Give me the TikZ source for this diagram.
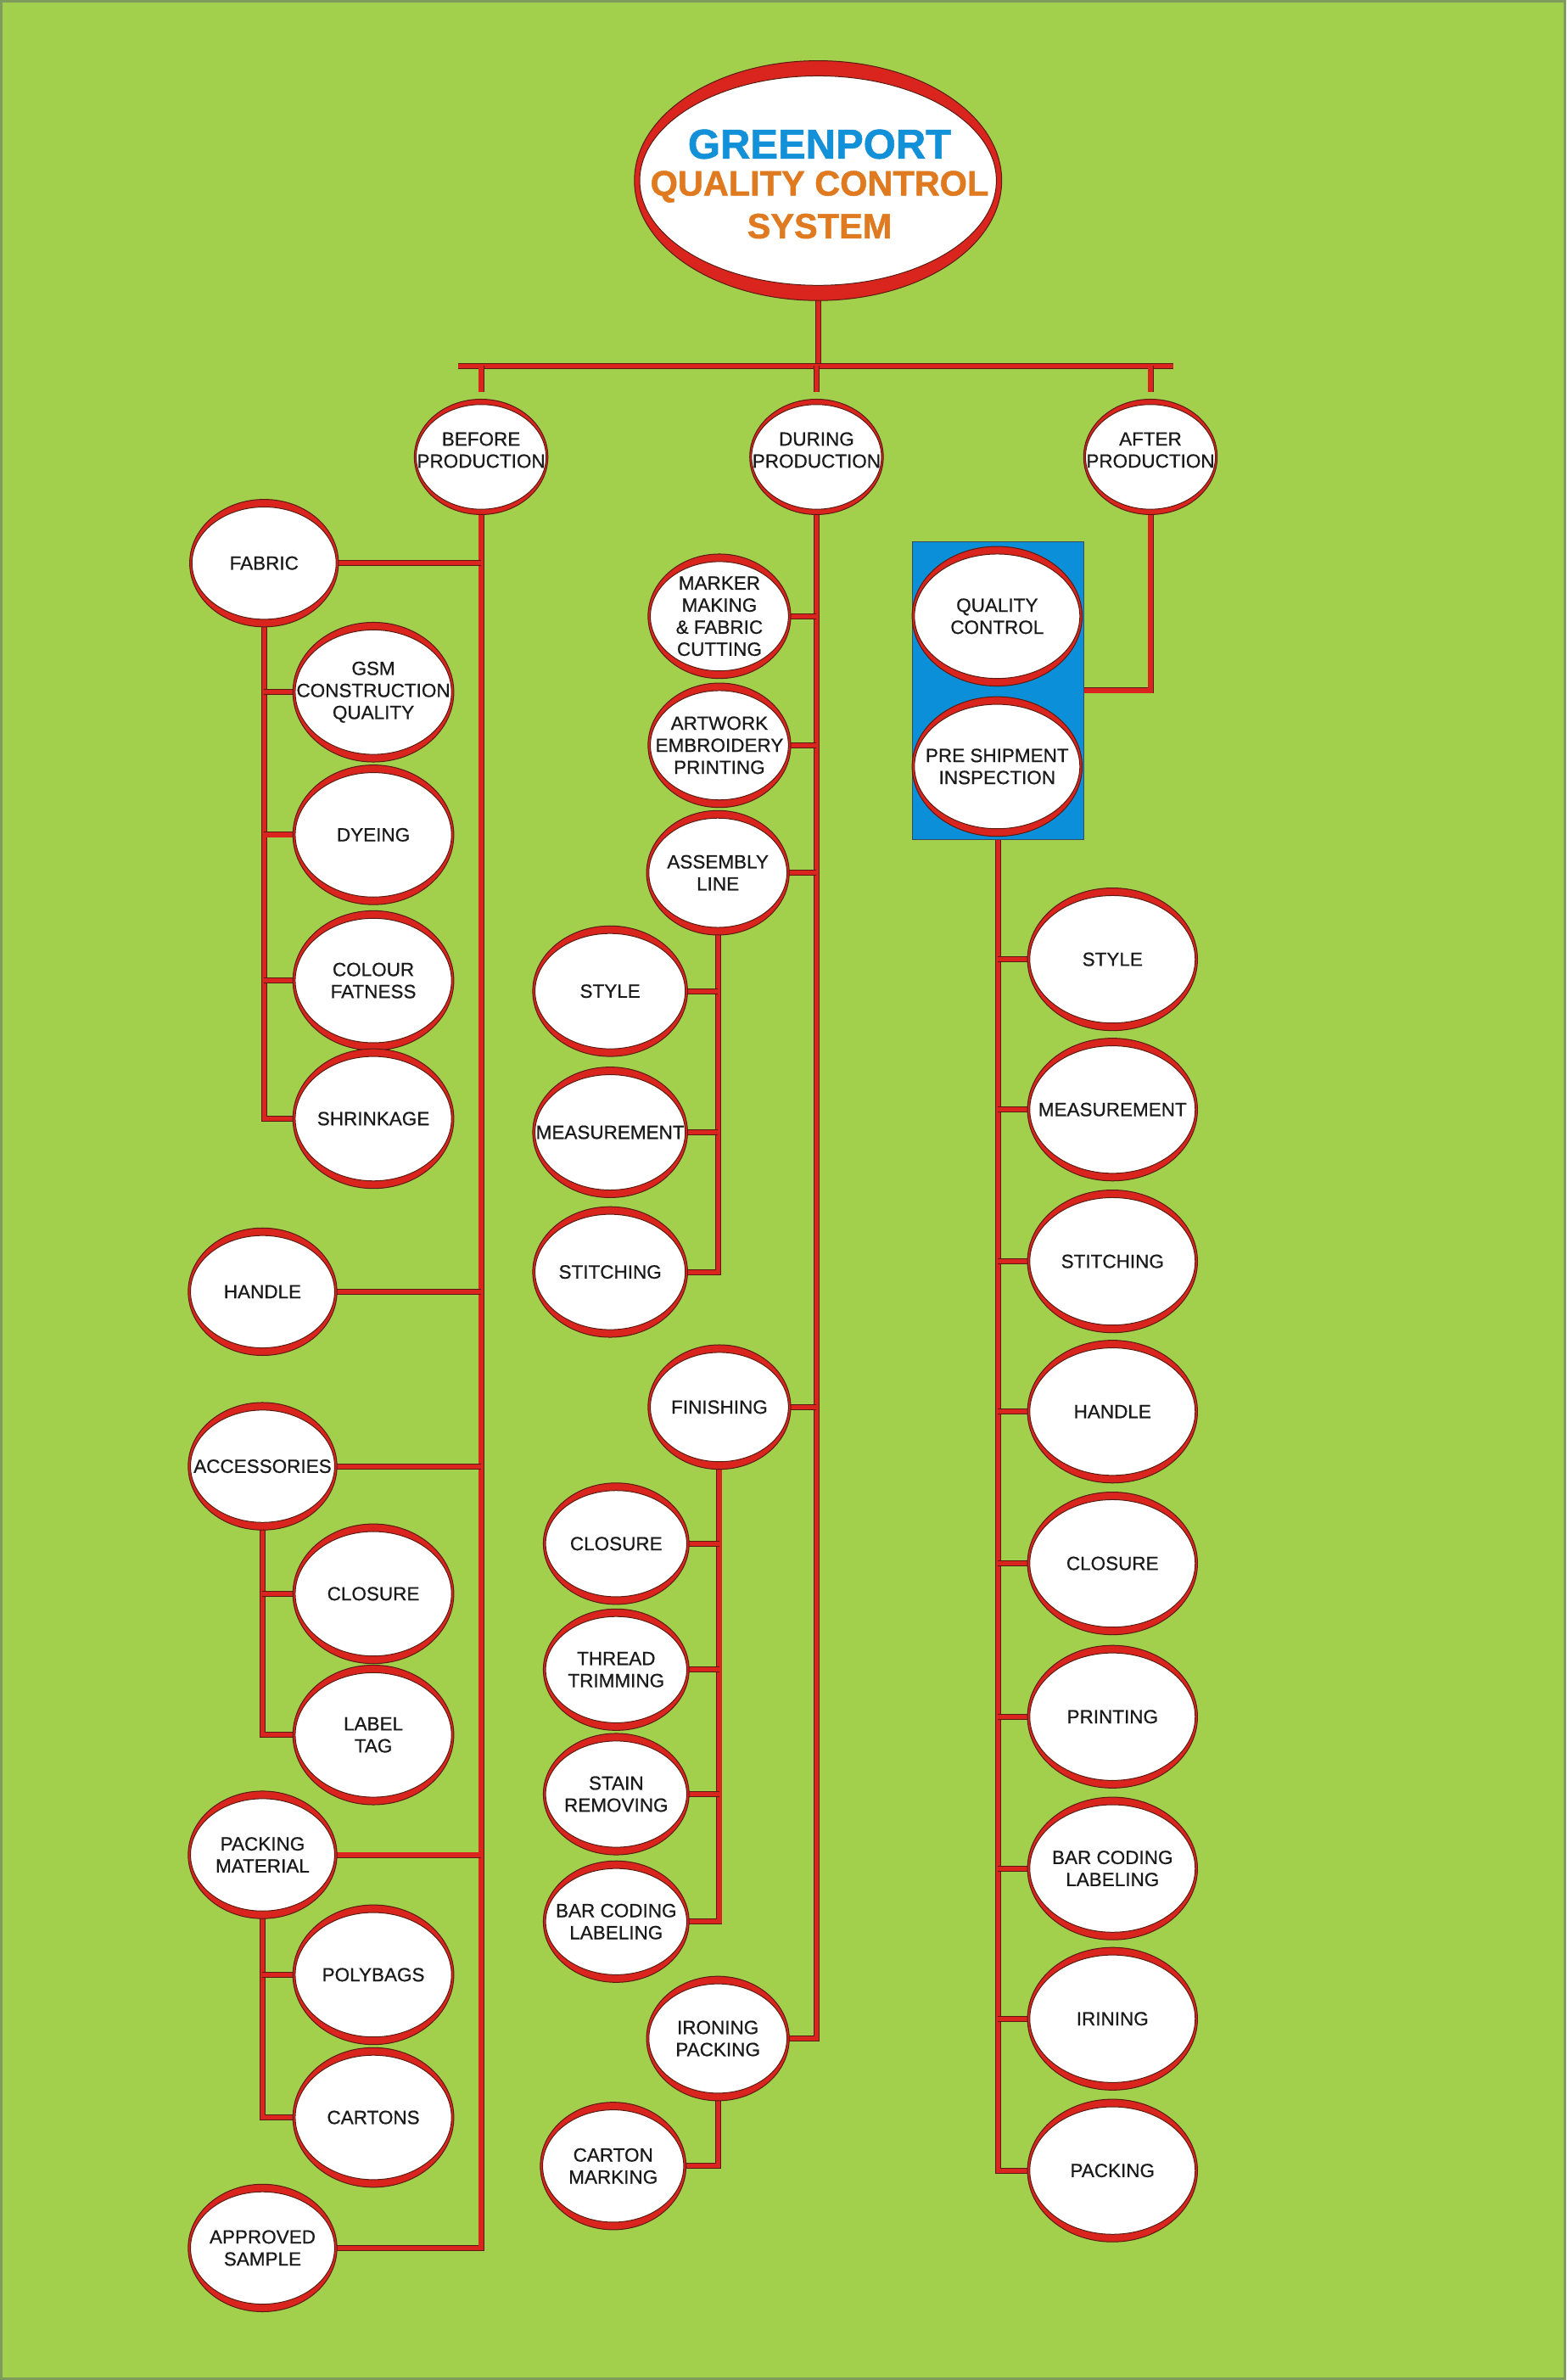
\documentclass[tikz,border=0pt]{standalone}
\usepackage{fontspec}
\setmainfont{Liberation Sans}
\newfontfamily\lblfont[FakeBold=0.7]{Liberation Sans}
\newfontfamily\ttlfont[FakeBold=1.2]{Liberation Sans Bold}
\usetikzlibrary{shapes.geometric}
\pgfdeclarelayer{bg}
\pgfsetlayers{bg,main}
\definecolor{bggreen}{HTML}{A3D04C}
\definecolor{frame}{HTML}{7E9A5C}
\definecolor{nodered}{HTML}{D9251D}
\definecolor{dkline}{HTML}{5A1A10}
\definecolor{boxblue}{HTML}{0B8FD8}
\definecolor{tblue}{HTML}{1290D8}
\definecolor{torange}{HTML}{E07A20}
\definecolor{txt}{HTML}{1A1A1A}
\tikzset{
  lbl/.style={rectangle, inner sep=0pt, align=center, text=txt,
    font=\lblfont\fontsize{22.5}{26}\selectfont},
  conn/.style={draw=dkline, line width=0.9pt, double=nodered,
    double distance=5.2pt, line join=miter},
  ttl/.style={inner sep=0pt}
}
\newcommand\ov[9]{%
  \fill[nodered, draw=dkline, line width=1pt] (#2,#3) ellipse [x radius=#4, y radius=#5];
  \fill[white, draw=dkline, line width=1pt] (#2,#3) ellipse [x radius={#4-#7}, y radius={#5-#8}];
  \node[lbl, minimum width={2*#4*1.7897pt}, minimum height={2*#5*1.7897pt}, #9] (#1) at (#2,#3) {#6};%
}
\newcommand\ovn[6]{\ov{#1}{#2}{#3}{#4}{#5}{#6}{1.5}{5}{}}
\begin{document}
\begin{tikzpicture}[x=1.7897pt, y=-1.7897pt]
\useasboundingbox (0,0) rectangle (1032,1568);
\begin{pgfonlayer}{bg}
  \fill[bggreen, draw=frame, line width=3pt] (0.8,0.8) rectangle (1031.2,1567.2);
\end{pgfonlayer}

% title
\ov{title}{539}{119}{121}{79}{}{3.5}{10}{}
\node[ttl, text=tblue, font=\ttlfont\fontsize{49}{52}\selectfont] (t1) at (540,95) {GREENPORT};
\node[ttl, text=torange, font=\ttlfont\fontsize{41.5}{46}\selectfont] (t2) at (540,123) {QUALITY CONTROL};
\node[ttl, text=torange, font=\ttlfont\fontsize{41.5}{46}\selectfont] (t3) at (540,149) {SYSTEM};

\coordinate (barL) at (302,241);
\coordinate (barR) at (773,241);

% level 1
\ov{before}{317}{301}{44}{38}{BEFORE\\PRODUCTION}{1.2}{3.5}{yshift=8pt}
\ov{during}{538}{301}{44}{38}{DURING\\PRODUCTION}{1.2}{3.5}{yshift=8pt}
\ov{after}{758}{301}{44}{38}{AFTER\\PRODUCTION}{1.2}{3.5}{yshift=8pt}

% before column
\ovn{fabric}{174}{371}{49}{42}{FABRIC}
\ovn{gsm}{246}{456}{53}{46}{GSM\\CONSTRUCTION\\QUALITY}
\ovn{dyeing}{246}{550}{53}{46}{DYEING}
\ovn{colour}{246}{646}{53}{46}{COLOUR\\FATNESS}
\ovn{shrink}{246}{737}{53}{46}{SHRINKAGE}
\ovn{handle}{173}{851}{49}{42}{HANDLE}
\ovn{acc}{173}{966}{49}{42}{ACCESSORIES}
\ovn{closureA}{246}{1050}{53}{46}{CLOSURE}
\ovn{label}{246}{1143}{53}{46}{LABEL\\TAG}
\ovn{packmat}{173}{1222}{49}{42}{PACKING\\MATERIAL}
\ovn{poly}{246}{1301}{53}{46}{POLYBAGS}
\ovn{cartons}{246}{1395}{53}{46}{CARTONS}
\ovn{approved}{173}{1481}{49}{42}{APPROVED\\SAMPLE}

% during column
\ovn{marker}{474}{406}{47}{41}{MARKER\\MAKING\\\&\ FABRIC\\CUTTING}
\ovn{artwork}{474}{491}{47}{41}{ARTWORK\\EMBROIDERY\\PRINTING}
\ovn{assembly}{473}{575}{47}{41}{ASSEMBLY\\LINE}
\ovn{styleA}{402}{653}{51}{43}{STYLE}
\ovn{measA}{402}{746}{51}{43}{MEASUREMENT}
\ovn{stitchA}{402}{838}{51}{43}{STITCHING}
\ovn{finishing}{474}{927}{47}{41}{FINISHING}
\ovn{closureB}{406}{1017}{48}{40}{CLOSURE}
\ovn{thread}{406}{1100}{48}{40}{THREAD\\TRIMMING}
\ovn{stain}{406}{1182}{48}{40}{STAIN\\REMOVING}
\ovn{barcodeA}{406}{1266}{48}{40}{BAR CODING\\LABELING}
\ovn{ironing}{473}{1343}{47}{41}{IRONING\\PACKING}
\ovn{carton}{404}{1427}{48}{42}{CARTON\\MARKING}

% after column
\node[fill=boxblue, draw=dkline!60!boxblue, line width=1pt, minimum width={113*1.7897pt}, minimum height={196*1.7897pt}, inner sep=0pt] (qcbox) at (657.5,455) {};
\ovn{qc}{657}{406}{56}{46}{QUALITY\\CONTROL}
\ovn{psi}{657}{505}{56}{46}{PRE SHIPMENT\\INSPECTION}
\ovn{styleB}{733}{632}{56}{47}{STYLE}
\ovn{measB}{733}{731}{56}{47}{MEASUREMENT}
\ovn{stitchB}{733}{831}{56}{47}{STITCHING}
\ovn{handleB}{733}{930}{56}{47}{HANDLE}
\ovn{closureC}{733}{1030}{56}{47}{CLOSURE}
\ovn{printing}{733}{1131}{56}{47}{PRINTING}
\ovn{barcodeB}{733}{1231}{56}{47}{BAR CODING\\LABELING}
\ovn{irining}{733}{1330}{56}{47}{IRINING}
\ovn{packing}{733}{1430}{56}{47}{PACKING}

\begin{pgfonlayer}{bg}
  % top
  \draw[conn] (title.south) -- (title.south |- barL);
  \draw[conn] (barL) -- (barR);
  \draw[conn] (before.north |- barL) -- (before.north);
  \draw[conn] (during.north |- barL) -- (during.north);
  \draw[conn] (after.north |- barL) -- (after.north);
  % before trunk
  \draw[conn] (before.south) -- (before.south |- approved.east) -- (approved.east);
  \foreach \n in {fabric,handle,acc,packmat}
    \draw[conn] (\n.east) -- (\n.east -| before.south);
  \draw[conn] (fabric.south) -- (fabric.south |- shrink.west) -- (shrink.west);
  \foreach \n in {gsm,dyeing,colour}
    \draw[conn] (\n.west -| fabric.south) -- (\n.west);
  \draw[conn] (acc.south) -- (acc.south |- label.west) -- (label.west);
  \draw[conn] (closureA.west -| acc.south) -- (closureA.west);
  \draw[conn] (packmat.south) -- (packmat.south |- cartons.west) -- (cartons.west);
  \draw[conn] (poly.west -| packmat.south) -- (poly.west);
  % during trunk
  \draw[conn] (during.south) -- (during.south |- ironing.east) -- (ironing.east);
  \foreach \n in {marker,artwork,assembly,finishing}
    \draw[conn] (\n.east) -- (\n.east -| during.south);
  \draw[conn] (assembly.south) -- (assembly.south |- stitchA.east) -- (stitchA.east);
  \foreach \n in {styleA,measA}
    \draw[conn] (\n.east) -- (\n.east -| assembly.south);
  \draw[conn] (finishing.south) -- (finishing.south |- barcodeA.east) -- (barcodeA.east);
  \foreach \n in {closureB,thread,stain}
    \draw[conn] (\n.east) -- (\n.east -| finishing.south);
  \draw[conn] (ironing.south) -- (ironing.south |- carton.east) -- (carton.east);
  % after trunk
  \draw[conn] (after.south) -- (after.south |- qcbox.east) -- (qcbox.east);
  \draw[conn] (qcbox.south) -- (qcbox.south |- packing.west) -- (packing.west);
  \foreach \n in {styleB,measB,stitchB,handleB,closureC,printing,barcodeB,irining}
    \draw[conn] (\n.west -| qcbox.south) -- (\n.west);
\end{pgfonlayer}
\end{tikzpicture}
\end{document}
